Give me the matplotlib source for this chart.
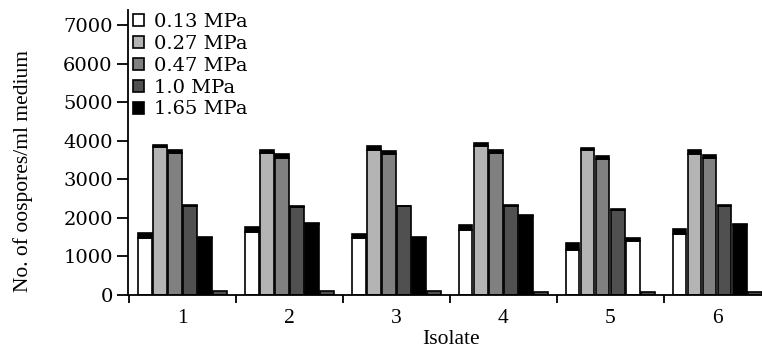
import numpy as np
import matplotlib.pyplot as plt

plt.rcParams['font.family'] = ['Liberation Serif', 'DejaVu Serif']

isolates = ['1', '2', '3', '4', '5', '6']
pressures = ['0.13 MPa', '0.27 MPa', '0.47 MPa', '1.0 MPa', '1.65 MPa']

# bar heights (coloured part) and black top segment, per pressure level
p013 = [1490, 1640, 1470, 1680, 1165, 1570]
p013_err = [130, 115, 112, 137, 190, 130]
p027 = [3850, 3680, 3750, 3870, 3750, 3665]
p027_err = [45, 69, 104, 69, 70, 85]
p047 = [3680, 3560, 3645, 3680, 3515, 3560]
p047_err = [69, 85, 85, 87, 77, 77]
p100 = [2320, 2290, 2300, 2310, 2210, 2310]
p100_err = [20, 20, 20, 20, 20, 20]
p165 = [1490, 1840, 1490, 2050, 1400, 1820]
p165_err = [20, 20, 20, 20, 85, 20]
p165_colors = ['#000000', '#000000', '#000000', '#000000', '#ffffff', '#000000']
extra = [110, 110, 110, 80, 80, 80]

colors = ['#ffffff', '#b4b4b4', '#808080', '#505050', '#000000']

fig = plt.figure(figsize=(7.62, 3.54), dpi=100)
ax = fig.add_axes([0.168, 0.1667, 0.832, 0.805])

x = np.arange(1, len(isolates) + 1)
step = 0.141
width = 0.128

series = [(p013, p013_err), (p027, p027_err), (p047, p047_err),
          (p100, p100_err), (p165, p165_err)]
for i, (vals, errs) in enumerate(series):
    pos = x + (i - 2.5) * step
    fc = p165_colors if i == 4 else colors[i]
    ax.bar(pos, vals, width, color=fc, edgecolor='black', linewidth=1.2,
           label=pressures[i], zorder=2)
    ax.bar(pos, errs, width, bottom=vals, color='black', edgecolor='black',
           linewidth=1.2, zorder=2)

ax.bar(x + 2.5 * step, extra, width, color='#505050', edgecolor='black',
       linewidth=1.2, zorder=2)

ax.set_xlim(0.49, 6.42)
ax.set_ylim(0, 7390)
ax.set_yticks(range(0, 7001, 1000))
ax.set_xticks(x - 0.5)
ax.set_xticklabels([])
ax.set_xticks(x, minor=True)
ax.set_xticklabels(isolates, minor=True)
ax.tick_params(axis='x', which='major', length=6, width=1.3, direction='out')
ax.tick_params(axis='x', which='minor', length=0, pad=10, labelsize=15.5)
ax.tick_params(axis='y', length=8, width=1.3, direction='out', pad=3)
for lbl in ax.get_yticklabels():
    lbl.set_fontfamily('DejaVu Serif')
    lbl.set_fontsize(14)

for s in ['top', 'right']:
    ax.spines[s].set_visible(False)
for s in ['left', 'bottom']:
    ax.spines[s].set_linewidth(1.3)

fig.text(23 / 762, 1 - 171 / 354, 'No. of oospores/ml medium', rotation=90,
         ha='center', va='center', fontsize=15.5)
fig.text(451 / 762, 1 - 340 / 354, 'Isolate', ha='center', va='center',
         fontsize=15.5)

handles, labels = ax.get_legend_handles_labels()
leg = ax.legend(handles, labels, loc='upper left', bbox_to_anchor=(0.008, 0.99),
                frameon=False, prop={'family': 'DejaVu Serif', 'size': 14},
                handlelength=0.58, handleheight=0.58, handletextpad=0.5,
                labelspacing=0.2, borderaxespad=0, borderpad=0)
leg.legend_handles[4].set_facecolor('black')

fig.savefig('out.png', dpi=100)
